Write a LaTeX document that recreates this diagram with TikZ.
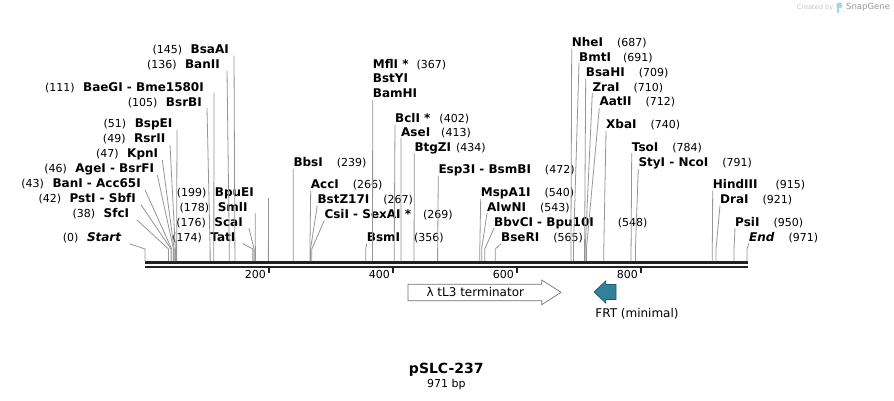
\documentclass[tikz,border=0pt]{standalone}
\usepackage{fontspec}
\setmainfont{DejaVu Sans}
\usepackage{tikz}
\usetikzlibrary{positioning}

\definecolor{frtteal}{RGB}{49,130,153}
\definecolor{frtedge}{RGB}{30,90,110}
\definecolor{cutgray}{RGB}{150,150,150}
\definecolor{bbdark}{RGB}{34,34,34}
\definecolor{logoblue}{RGB}{160,212,240}

\newcommand{\enzfont}{\fontsize{12}{14}\selectfont\bfseries}
\newcommand{\bpfont}{\fontsize{11}{13}\selectfont\mdseries}
\newcommand{\posR}[2][14pt]{\hspace{#1}{\bpfont(#2)}}
\newcommand{\posL}[1]{{\bpfont(#1)}\hspace{8.5pt}}

\begin{document}
\begin{tikzpicture}[x=1pt, y=-1pt,
  enzR/.style={font=\enzfont, inner sep=0pt, text height=9pt, text depth=2pt, anchor=base west},
  enzL/.style={font=\enzfont, inner sep=0pt, text height=9pt, text depth=2pt, anchor=base east},
  cut/.style={draw=cutgray, line width=0.8pt},
  bar/.style={draw=bbdark, line width=3pt},
  tick/.style={draw=bbdark, line width=1.6pt},
  ticklbl/.style={font=\bpfont, inner sep=0pt, anchor=base east},
  feat/.style={font=\fontsize{12}{14}\selectfont, inner sep=0pt},
  termarrow/.style={draw=black!55, fill=white, line width=0.7pt},
  frtarrow/.style={draw=frtedge, fill=frtteal, line width=0.7pt}
]
\fill[white] (0,0) rectangle (894,400);
\useasboundingbox (0,0) rectangle (894,400);

% Backbone
\draw[bar] (145,262.5) -- (748,262.5);
\draw[bar, line width=2.6pt] (145,266.8) -- (748,266.8);
\foreach \t in {200,400,600,800} {
  \draw[tick] ({145+0.62*\t},268) -- ++(0,5);
  \node[ticklbl] (tick\t) at ({145+0.62*\t-3},278.5) {\t};
}

% Cut sites on the backbone
\foreach \bp in {0,38,42,43,46,47,49,51,105,111,136,145,174,176,178,199,
                 239,266,267,269,356,367,402,413,434,472,540,543,548,565,
                 687,691,709,710,712,740,784,791,915,921,950,971}
  \coordinate (s\bp) at ({145+0.62*\bp},261);

% Left cluster
\node[enzL] (bsaAI) at (229,53.3) {\posL{145}BsaAI};
\node[enzL] (banII) at (220,68.3) {\posL{136}BanII};
\node[enzL] (bme1580I) at (204,91) {\posL{111}BaeGI - Bme1580I};
\node[enzL] (bsrBI) at (202,106) {\posL{105}BsrBI};
\node[enzL] (bspEI) at (172.5,127.6) {\posL{51}BspEI};
\node[enzL] (rsrII) at (165.5,142.8) {\posL{49}RsrII};
\node[enzL] (kpnI) at (158.3,157.8) {\posL{47}KpnI};
\node[enzL] (bsrFI) at (154.3,172.6) {\posL{46}AgeI - BsrFI};
\node[enzL] (acc65I) at (141,187.6) {\posL{43}BanI - Acc65I};
\node[enzL] (sbfI) at (136,202.6) {\posL{42}PstI - SbfI};
\node[enzL] (sfcI) at (129.3,217.6) {\posL{38}SfcI};
\node[enzL] (startlbl) at (121.7,241.6) {\posL{0}\textit{Start}};
\node[enzL] (bpuEI) at (254,196) {\posL{199}BpuEI};
\node[enzL] (smlI) at (247.7,211) {\posL{178}SmlI};
\node[enzL] (scaI) at (243,226) {\posL{176}ScaI};
\node[enzL] (tatI) at (235.5,241.3) {\posL{174}TatI};

\draw[cut] ([xshift=5pt]bsaAI.south east) -- ([yshift=12pt]s145) -- (s145);
\draw[cut] ([xshift=7pt]banII.south east) -- ([yshift=12pt]s136) -- (s136);
\draw[cut] ([xshift=10pt]bme1580I.south east) -- ([yshift=12pt]s111) -- (s111);
\draw[cut] ([xshift=5pt]bsrBI.south east) -- ([yshift=12pt]s105) -- (s105);
\draw[cut] ([xshift=4.5pt]bspEI.south east) -- ([yshift=12pt]s51) -- (s51);
\draw[cut] ([xshift=4.5pt]rsrII.south east) -- ([yshift=12pt]s49) -- (s49);
\draw[cut] ([xshift=4pt]kpnI.south east) -- ([yshift=12pt]s47) -- (s47);
\draw[cut] ([xshift=3pt]bsrFI.south east) -- ([yshift=12pt]s46) -- (s46);
\draw[cut] ([xshift=4pt]acc65I.south east) -- ([yshift=12pt]s43) -- (s43);
\draw[cut] ([xshift=5pt]sbfI.south east) -- ([yshift=12pt]s42) -- (s42);
\draw[cut] ([xshift=7.5pt]sfcI.south east) -- ([yshift=12pt]s38) -- (s38);
\draw[cut] ([xshift=8pt]startlbl.south east) -- ([yshift=12pt]s0) -- (s0);
\draw[cut] ([xshift=14.5pt]bpuEI.south east) -- ([yshift=12pt]s199) -- (s199);
\draw[cut] ([xshift=7.5pt]smlI.south east) -- ([yshift=12pt]s178) -- (s178);
\draw[cut] ([xshift=6pt]scaI.south east) -- ([yshift=12pt]s176) -- (s176);
\draw[cut] ([xshift=7pt]tatI.south east) -- ([yshift=12pt]s174) -- (s174);

% Middle
\node[enzR] (bbsI) at (293.3,166.6) {BbsI\posR{239}};
\node[enzR] (accI) at (310.7,188.3) {AccI\posR{266}};
\node[enzR] (bstZ17I) at (317.3,203.3) {BstZ17I\posR{267}};
\node[enzR] (sexAI) at (324.3,218.3) {CsiI - SexAI *\posR[12pt]{269}};
\node[enzR] (mflI) at (372.7,68.6) {MflI *\posR[8pt]{367}};
\node[enzR] (bstYI) at (372.7,82.6) {BstYI};
\node[enzR] (bamHI) at (372.7,97.6) {BamHI};
\node[enzR] (bclI) at (395,122.6) {BclI *\posR[9pt]{402}};
\node[enzR] (aseI) at (401,136) {AseI\posR[11pt]{413}};
\node[enzR] (btgZI) at (414.3,151) {BtgZI\posR[5pt]{434}};
\node[enzR] (bsmI) at (366.7,241.6) {BsmI\posR{356}};
\node[enzR] (bsmBI) at (438.3,173.3) {Esp3I - BsmBI\posR{472}};
\node[enzR] (mspA1I) at (480.7,196.6) {MspA1I\posR{540}};
\node[enzR] (alwNI) at (487,211) {AlwNI\posR{543}};
\node[enzR] (bpu10I) at (494,226) {BbvCI - Bpu10I\posR[24pt]{548}};
\node[enzR] (bseRI) at (501,241.6) {BseRI\posR{565}};

\draw[cut] (bbsI.south west) -- ([yshift=12pt]s239) -- (s239);
\draw[cut] (accI.south west) -- ([yshift=12pt]s266) -- (s266);
\draw[cut] (bstZ17I.south west) -- ([yshift=12pt]s267) -- (s267);
\draw[cut] (sexAI.south west) -- ([yshift=12pt]s269) -- (s269);
\draw[cut] (bamHI.south west) -- ([yshift=12pt]s367) -- (s367);
\draw[cut] (bclI.south west) -- ([yshift=12pt]s402) -- (s402);
\draw[cut] (aseI.south west) -- ([yshift=12pt]s413) -- (s413);
\draw[cut] (btgZI.south west) -- ([yshift=12pt]s434) -- (s434);
\draw[cut] (bsmI.south west) -- ([yshift=12pt]s356) -- (s356);
\draw[cut] (bsmBI.south west) -- ([yshift=12pt]s472) -- (s472);
\draw[cut] (mspA1I.south west) -- ([yshift=12pt]s540) -- (s540);
\draw[cut] (alwNI.south west) -- ([yshift=12pt]s543) -- (s543);
\draw[cut] (bpu10I.south west) -- ([yshift=12pt]s548) -- (s548);
\draw[cut] (bseRI.south west) -- ([yshift=12pt]s565) -- (s565);

% Right cluster
\node[enzR] (nheI) at (571.7,46.6) {NheI\posR{687}};
\node[enzR] (bmtI) at (579,61) {BmtI\posR[12pt]{691}};
\node[enzR] (bsaHI) at (585.7,76.6) {BsaHI\posR{709}};
\node[enzR] (zraI) at (592.3,91) {ZraI\posR{710}};
\node[enzR] (aatII) at (599.3,105.6) {AatII\posR{712}};
\node[enzR] (xbaI) at (606,128.6) {XbaI\posR{740}};
\node[enzR] (tsoI) at (631.7,151) {TsoI\posR{784}};
\node[enzR] (ncoI) at (638.3,166.6) {StyI - NcoI\posR{791}};
\node[enzR] (hindIII) at (712.7,188.3) {HindIII\posR[18pt]{915}};
\node[enzR] (draI) at (720,203.3) {DraI\posR{921}};
\node[enzR] (psiI) at (735,226) {PsiI\posR{950}};
\node[enzR] (endlbl) at (749,241) {\textit{End}\posR{971}};

\draw[cut] (nheI.south west) -- ([yshift=12pt]s687) -- (s687);
\draw[cut] (bmtI.south west) -- ([yshift=12pt]s691) -- (s691);
\draw[cut] (bsaHI.south west) -- ([yshift=12pt]s709) -- (s709);
\draw[cut] (zraI.south west) -- ([yshift=12pt]s710) -- (s710);
\draw[cut] (aatII.south west) -- ([yshift=12pt]s712) -- (s712);
\draw[cut] (xbaI.south west) -- ([yshift=12pt]s740) -- (s740);
\draw[cut] (tsoI.south west) -- ([yshift=12pt]s784) -- (s784);
\draw[cut] (ncoI.south west) -- ([yshift=12pt]s791) -- (s791);
\draw[cut] (hindIII.south west) -- ([yshift=12pt]s915) -- (s915);
\draw[cut] (draI.south west) -- ([yshift=12pt]s921) -- (s921);
\draw[cut] (psiI.south west) -- ([yshift=12pt]s950) -- (s950);
\draw[cut] (endlbl.south west) -- ([yshift=12pt]s971) -- (s971);

% Features
\draw[termarrow] (408,284.3) -- (541.7,284.3) -- (541.7,280) -- (561,292.3)
  -- (541.7,304.7) -- (541.7,300.7) -- (408,300.7) -- cycle;
\node[feat] (tL3) at (475.3,292.3) {λ tL3 terminator};
\draw[frtarrow] (594,292) -- (605.7,281) -- (605.7,284.5) -- (616,284.5)
  -- (616,299.5) -- (605.7,299.5) -- (605.7,303) -- cycle;
\node[feat] (frt) at (637,313.3) {FRT (minimal)};

% Title
\node[font=\fontsize{14}{16}\selectfont\bfseries, inner sep=0pt] (plasmid) at (446.3,369.3) {pSLC-237};
\node[font=\bpfont, inner sep=0pt] (size) at (446.3,384.3) {971 bp};

% Logo
\node[font=\fontsize{6.6}{8}\selectfont, text=black!22, inner sep=0pt, anchor=west] (createdby) at (796.7,7.3) {Created by};
\fill[logoblue] (836.7,2.5) rectangle (838.9,12.5);
\fill[logoblue, rounded corners=1.2pt] (836.7,2.5) rectangle (841.9,8.2);
\node[font=\fontsize{8.5}{10}\selectfont, text=black!40, inner sep=0pt, anchor=west] (snapgene) at (846,7.3) {SnapGene};

\end{tikzpicture}
\end{document}
